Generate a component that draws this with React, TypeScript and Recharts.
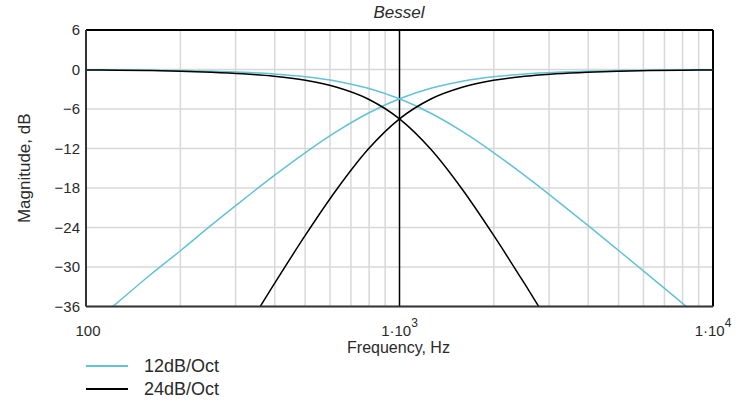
import { LineChart, Line, XAxis, YAxis, CartesianGrid, ReferenceLine, Label } from 'recharts';

// frequencies in Hz (tenth-decade steps)
const freqs = [100, 126, 158, 200, 251, 316, 398, 501, 631, 794, 1000, 1259, 1585, 1995, 2512, 3162, 3981, 5012, 6310, 7943, 10000];

// 12dB/Oct low pass / high pass, dB
const lp12 = [-0.04, -0.06, -0.1, -0.16, -0.26, -0.42, -0.68, -1.1, -1.78, -2.85, -4.45, -6.65, -9.41, -12.62, -16.13, -19.83, -23.64, -27.53, -31.45, -35.41, -39.38];
const hp12 = [-39.38, -35.41, -31.45, -27.53, -23.64, -19.83, -16.13, -12.62, -9.41, -6.65, -4.45, -2.85, -1.78, -1.1, -0.68, -0.42, -0.26, -0.16, -0.1, -0.06, -0.04];

// 24dB/Oct low pass / high pass, dB
const lp24 = [-0.06, -0.1, -0.16, -0.25, -0.4, -0.64, -1.02, -1.65, -2.7, -4.48, -7.5, -12.13, -18.2, -25.17, -32.61, -40.3, -48.12, -56.0, -64.0, -72.0, -80.0];
const hp24 = [-80.0, -72.0, -64.0, -56.0, -48.12, -40.3, -32.61, -25.17, -18.2, -12.13, -7.5, -4.48, -2.7, -1.65, -1.02, -0.64, -0.4, -0.25, -0.16, -0.1, -0.06];

const yTicks = [-36, -30, -24, -18, -12, -6, 0, 6];
const xTicks = [100, 1000, 10000];
const minorFreqs = [200, 300, 400, 500, 600, 700, 800, 900, 2000, 3000, 4000, 5000, 6000, 7000, 8000, 9000];

const data = freqs.map((f, i) => ({ f, lp12: lp12[i], hp12: hp12[i], lp24: lp24[i], hp24: hp24[i] }));

const FONT = '"Liberation Sans", Arial, sans-serif';
const TEXT = '#2a2a2a';
const CYAN = '#62c3d6';

const FreqTick = ({ x, y, payload }: any) => {
  const v = payload.value;
  if (v === 100) {
    return (
      <text x={x + 2} y={y + 29.5} textAnchor="middle" fontSize={15} fill={TEXT} fontFamily={FONT}>100</text>
    );
  }
  const exp = Math.round(Math.log10(v));
  return (
    <text x={x} y={y + 29.5} textAnchor="middle" fontSize={15} fill={TEXT} fontFamily={FONT}>
      <tspan>1·10</tspan>
      <tspan dy={-9} fontSize={12}>{exp}</tspan>
    </text>
  );
};

export default function App() {
  return (
    <div style={{ position: 'absolute', left: 0, top: 0, width: 743, height: 403, background: '#fff', fontFamily: FONT }}>
      <div style={{ position: 'absolute', left: 0, width: 800, top: 3, fontStyle: 'italic', fontSize: 17, color: TEXT }}>
        <span style={{ position: 'absolute', left: 399, transform: 'translateX(-50%)' }}>Bessel</span>
      </div>
      <LineChart width={743} height={403} data={data} margin={{ top: 30, right: 30, bottom: 66.5, left: 0 }}>
        <CartesianGrid vertical={false} stroke="#d8d8d8" strokeWidth={1.5} />
        {minorFreqs.map((f) => (
          <ReferenceLine key={f} x={f} stroke="#d8d8d8" strokeWidth={1.5} />
        ))}
        <ReferenceLine x={1000} stroke="#000" strokeWidth={1.5} />
        <ReferenceLine y={6} stroke="#000" strokeWidth={2} />
        <ReferenceLine x={10000} stroke="#000" strokeWidth={2} />
        <XAxis
          dataKey="f"
          type="number"
          scale="log"
          domain={[100, 10000]}
          ticks={xTicks}
          allowDataOverflow
          height={30}
          tickSize={0}
          tickMargin={0}
          tick={<FreqTick />}
          axisLine={{ stroke: '#333', strokeWidth: 2 }}
          tickLine={false}
        >
          <Label
            content={({ viewBox }: any) => (
              <text x={viewBox.x + viewBox.width / 2 - 1} y={viewBox.y + 46.5} textAnchor="middle" fontSize={16} fill={TEXT} fontFamily={FONT}>
                Frequency, Hz
              </text>
            )}
          />
        </XAxis>
        <YAxis
          type="number"
          domain={[-36, 6]}
          ticks={yTicks}
          allowDataOverflow
          width={86}
          tickSize={0}
          tickMargin={6}
          tickFormatter={(v) => String(v).replace('-', '\u2212')}
          tick={{ fontSize: 15, fill: TEXT, fontFamily: FONT }}
          axisLine={{ stroke: '#333', strokeWidth: 2 }}
          tickLine={false}
        >
          <Label
            content={({ viewBox }: any) => {
              const cx = 30;
              const cy = viewBox.y + viewBox.height / 2;
              return (
                <text x={cx} y={cy} transform={`rotate(-90 ${cx} ${cy})`} textAnchor="middle" fontSize={17} fill={TEXT} fontFamily={FONT}>
                  Magnitude, dB
                </text>
              );
            }}
          />
        </YAxis>
        <Line type="monotone" dataKey="lp12" stroke={CYAN} strokeWidth={1.5} dot={false} isAnimationActive={false} />
        <Line type="monotone" dataKey="hp12" stroke={CYAN} strokeWidth={1.5} dot={false} isAnimationActive={false} />
        <Line type="monotone" dataKey="lp24" stroke="#000" strokeWidth={1.5} dot={false} isAnimationActive={false} />
        <Line type="monotone" dataKey="hp24" stroke="#000" strokeWidth={1.5} dot={false} isAnimationActive={false} />
      </LineChart>
      {/* Legend */}
      <div style={{ position: 'absolute', left: 86, top: 354.5, fontSize: 18, color: TEXT }}>
        {[
          { name: '12dB/Oct', color: CYAN },
          { name: '24dB/Oct', color: '#000' },
        ].map((item) => (
          <div key={item.name} style={{ display: 'flex', alignItems: 'center', height: 23 }}>
            <div style={{ width: 42, height: 1.5, background: item.color }} />
            <span style={{ marginLeft: 16 }}>{item.name}</span>
          </div>
        ))}
      </div>
    </div>
  );
}
